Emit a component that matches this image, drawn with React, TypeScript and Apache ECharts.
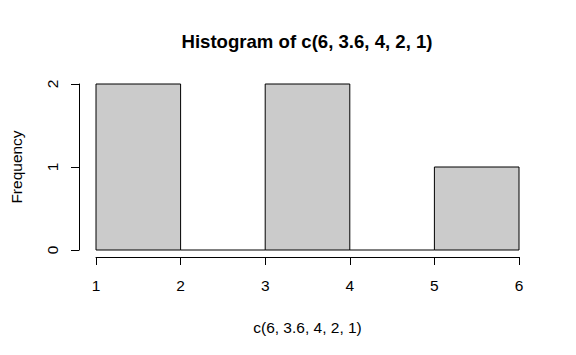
import React, { useEffect, useRef } from "react";
import * as echarts from "echarts";

const binStarts = [1, 2, 3, 4, 5];
const binEnds = [2, 3, 4, 5, 6];
const counts = [2, 0, 2, 0, 1];
const xTicks = [1, 2, 3, 4, 5, 6];
const yTicks = [0, 1, 2];

const titleText = "Histogram of c(6, 3.6, 4, 2, 1)";
const xLabel = "c(6, 3.6, 4, 2, 1)";
const yLabel = "Frequency";

const FONT = "'Liberation Sans', Arial, Helvetica, sans-serif";

export default function App() {
  const ref = useRef<HTMLDivElement>(null);
  useEffect(() => {
    if (!ref.current) return;
    const chart = echarts.init(ref.current, undefined, { renderer: "svg" });
    const data = binStarts.map((s, i) => [s, binEnds[i], counts[i]]);
    chart.setOption({
      animation: false,
      backgroundColor: "#ffffff",
      graphic: [
        {
          type: "text",
          x: 307,
          y: 41,
          style: {
            text: titleText,
            textAlign: "center",
            textVerticalAlign: "middle",
            fontFamily: FONT,
            fontSize: 18.6,
            fontWeight: "bold",
            fill: "#000",
          },
        },
      ],
      grid: { left: 96, right: 57, top: 84, bottom: 105 },
      xAxis: {
        type: "value",
        min: xTicks[0],
        max: xTicks[xTicks.length - 1],
        interval: 1,
        offset: 7,
        name: xLabel,
        nameLocation: "middle",
        nameGap: 62,
        nameTextStyle: { fontFamily: FONT, fontSize: 15.5, color: "#000" },
        axisLine: { show: true, onZero: false, lineStyle: { color: "#000", width: 1 } },
        axisTick: { show: true, length: 8, lineStyle: { color: "#000" } },
        axisLabel: { fontFamily: FONT, fontSize: 15.5, color: "#000", margin: 20 },
        splitLine: { show: false },
      },
      yAxis: {
        type: "value",
        min: yTicks[0],
        max: yTicks[yTicks.length - 1],
        interval: 1,
        offset: 17,
        name: yLabel,
        nameLocation: "middle",
        nameRotate: 90,
        nameGap: 55,
        nameTextStyle: { fontFamily: FONT, fontSize: 15.5, color: "#000" },
        axisLine: { show: true, onZero: false, lineStyle: { color: "#000", width: 1 } },
        axisTick: { show: true, length: 8, lineStyle: { color: "#000" } },
        axisLabel: { fontFamily: FONT, fontSize: 15.5, color: "#000", margin: 19, rotate: 90 },
        splitLine: { show: false },
      },
      series: [
        {
          type: "custom",
          data,
          encode: { x: [0, 1], y: 2 },
          renderItem: (params: any, api: any) => {
            const p0 = api.coord([api.value(0), 0]);
            const p1 = api.coord([api.value(1), api.value(2)]);
            if (api.value(2) === 0) {
              return {
                type: "line",
                shape: { x1: p0[0], y1: p0[1], x2: p1[0], y2: p0[1] },
                style: { stroke: "#000", lineWidth: 1 },
              };
            }
            return {
              type: "rect",
              shape: { x: p0[0], y: p1[1], width: p1[0] - p0[0], height: p0[1] - p1[1] },
              style: { fill: "#cbcbcb", stroke: "#000", lineWidth: 1 },
            };
          },
        },
      ],
    });
    return () => chart.dispose();
  }, []);
  return (
    <div
      ref={ref}
      style={{ position: "fixed", left: 0, top: 0, width: 576, height: 355, background: "#fff" }}
    />
  );
}
